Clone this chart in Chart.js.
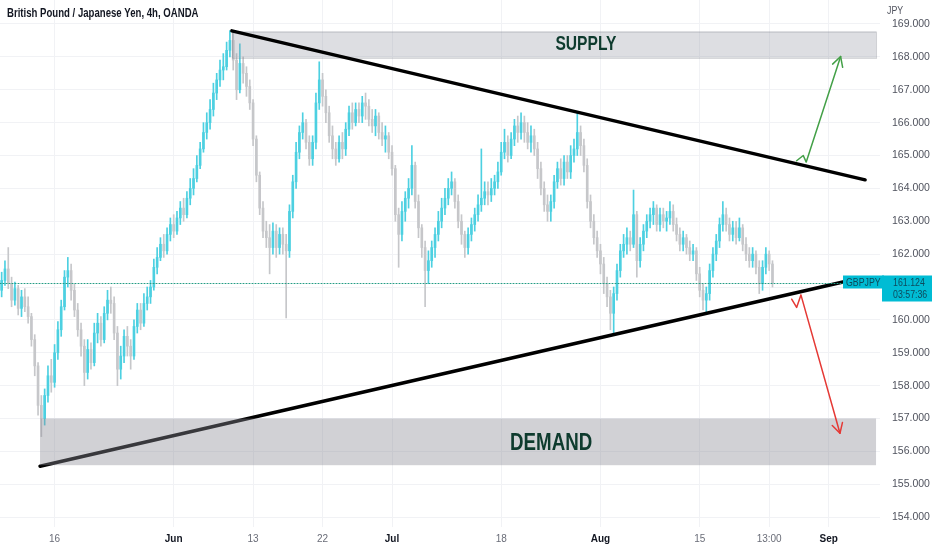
<!DOCTYPE html>
<html>
<head>
<meta charset="utf-8">
<title>GBPJPY 4h</title>
<script src="https://cdn.jsdelivr.net/npm/chart.js@4.4.1/dist/chart.umd.min.js"></script>
<style>
  html, body { margin: 0; padding: 0; background: #fff; }
  #wrap { width: 932px; height: 550px; }
</style>
</head>
<body>
<div id="wrap"><canvas id="chart"></canvas></div>
<script>
// 4h candles (one value per 8h slot), open = previous close
const firstOpen = 160.90;
const closes = [
  161.20, 161.55, 161.10, 160.60, 160.95, 160.35, 160.70, 160.40, 160.10, 159.40,
  158.60, 157.40, 157.00, 157.70, 158.30, 158.10, 159.00, 159.70, 160.40, 161.30,
  161.50, 160.90, 160.30, 159.70, 159.20, 158.40, 159.10, 158.70, 159.60, 159.90,
  159.40, 160.20, 160.60, 160.50, 159.60, 158.50, 158.90, 159.50, 159.20, 158.90,
  159.80, 160.30, 159.90, 160.50, 160.70, 161.00, 161.60, 161.90, 162.30, 162.10,
  162.60, 162.90, 162.70, 163.10, 163.40, 163.20, 163.70, 164.00, 164.30, 164.70,
  165.20, 165.70, 166.00, 166.40, 166.90, 167.30, 167.60, 167.70, 168.20, 168.50,
  167.90, 167.00, 167.80, 167.50, 167.10, 166.60, 165.50, 164.40, 163.40, 162.70,
  162.50, 162.20, 162.70, 162.20, 162.60, 162.30, 162.10, 163.30, 164.20, 165.10,
  165.70, 166.00, 165.40, 164.90, 165.40, 166.60, 167.30, 166.80, 166.30, 165.60,
  165.20, 164.90, 165.40, 165.20, 165.80, 166.30, 166.00, 166.40, 166.20, 166.60,
  166.50, 166.10, 165.90, 166.20, 165.70, 165.50, 165.60, 165.10, 164.60, 163.20,
  162.60, 163.30, 163.70, 164.00, 164.70, 163.60, 162.80, 162.20, 161.50, 161.80,
  162.20, 162.60, 163.00, 163.40, 163.70, 164.00, 164.20, 163.60, 163.00, 162.60,
  162.20, 162.60, 162.90, 163.20, 163.50, 163.70, 163.90, 163.80, 164.00, 164.20,
  164.50, 165.10, 165.40, 165.00, 165.50, 165.90, 165.70, 166.00, 165.70, 165.40,
  165.60, 165.20, 164.60, 164.00, 163.50, 163.30, 163.60, 164.20, 164.60, 164.30,
  164.80, 164.50, 165.00, 165.20, 165.70, 165.30, 164.70, 163.60, 163.00, 162.50,
  162.10, 161.70, 161.10, 160.70, 160.20, 160.80, 161.50, 162.10, 162.30, 162.50,
  162.30, 163.20, 161.80, 162.30, 162.70, 163.00, 163.20, 163.40, 162.90, 163.20,
  163.00, 163.10, 163.30, 162.90, 162.60, 162.30, 162.50, 162.20, 162.00, 162.10,
  161.40, 160.90, 160.60, 160.80, 161.50, 162.00, 162.40, 162.90, 163.20, 162.90,
  162.60, 162.80, 162.50, 162.80, 162.30, 162.00, 161.80, 162.00, 161.60, 161.10,
  161.60, 162.00, 161.70, 161.124
];
const highs = [
  161.45, 161.80, 162.20, 161.30, 161.15, 161.05, 160.90, 160.95, 160.70, 160.20,
  159.55, 158.70, 157.70, 157.90, 158.60, 158.80, 159.25, 159.95, 160.60, 161.50,
  161.90, 161.70, 161.10, 160.50, 159.90, 159.40, 159.40, 159.30, 159.90, 160.20,
  160.10, 160.40, 160.90, 161.00, 160.70, 159.80, 159.20, 159.70, 159.80, 159.40,
  160.00, 160.50, 160.50, 160.80, 161.00, 161.20, 161.85, 162.20, 162.50, 162.60,
  162.80, 163.10, 163.20, 163.30, 163.60, 163.70, 163.90, 164.30, 164.60, 165.00,
  165.40, 166.00, 166.30, 166.70, 167.20, 167.50, 167.90, 168.10, 168.45, 168.80,
  168.78, 168.10, 168.40, 168.00, 167.70, 167.30, 166.70, 165.60, 164.50, 163.60,
  163.00, 162.90, 162.95, 162.90, 162.80, 162.80, 162.60, 163.50, 164.40, 165.40,
  165.90, 166.30, 166.10, 165.60, 165.60, 166.90, 167.85, 167.50, 167.00, 166.50,
  165.90, 165.40, 165.60, 165.70, 166.00, 166.50, 166.60, 166.60, 166.60, 166.80,
  166.90, 166.70, 166.40, 166.40, 166.30, 166.00, 165.90, 165.70, 165.30, 164.70,
  163.40, 163.60, 163.90, 164.30, 165.30, 164.80, 163.80, 162.90, 162.40, 162.10,
  162.40, 162.80, 163.30, 163.70, 164.00, 164.30, 164.50, 164.30, 163.80, 163.20,
  162.70, 162.80, 163.10, 163.40, 163.80, 165.20, 164.20, 164.20, 164.30, 164.40,
  164.80, 165.40, 165.80, 165.60, 165.70, 166.10, 166.20, 166.30, 166.20, 166.00,
  165.90, 165.80, 165.40, 164.80, 164.20, 163.80, 163.80, 164.40, 164.80, 164.90,
  165.00, 165.00, 165.30, 165.50, 166.30, 165.90, 165.50, 164.90, 163.80, 163.20,
  162.70, 162.30, 161.90, 161.30, 160.90, 161.00, 161.70, 162.30, 162.60, 162.80,
  162.70, 163.95, 163.30, 162.50, 162.90, 163.20, 163.40, 163.60, 163.50, 163.40,
  163.40, 163.30, 163.60, 163.50, 163.10, 162.80, 162.70, 162.60, 162.40, 162.30,
  162.20, 161.60, 161.10, 161.00, 161.70, 162.20, 162.60, 163.10, 163.60, 163.40,
  163.10, 163.00, 163.00, 163.10, 162.90, 162.50, 162.20, 162.20, 162.10, 161.80,
  161.80, 162.20, 162.10, 161.80
];
const lows = [
  160.70, 161.05, 160.95, 160.40, 160.45, 160.15, 160.10, 160.25, 159.90, 159.20,
  158.30, 157.10, 156.45, 156.80, 157.50, 157.80, 157.95, 158.80, 159.50, 160.30,
  161.00, 160.60, 160.10, 159.50, 158.90, 158.00, 158.20, 158.50, 158.60, 159.30,
  159.20, 159.30, 160.00, 160.20, 159.40, 158.00, 158.20, 158.70, 158.90, 158.50,
  158.80, 159.60, 159.70, 159.80, 160.30, 160.50, 160.90, 161.40, 161.80, 161.90,
  162.00, 162.40, 162.50, 162.60, 162.90, 163.00, 163.10, 163.50, 163.80, 164.20,
  164.60, 165.10, 165.50, 165.80, 166.20, 166.70, 167.10, 167.30, 167.60, 168.00,
  167.60, 166.70, 166.90, 167.20, 166.80, 166.40, 165.30, 164.20, 163.20, 162.50,
  162.20, 161.40, 162.00, 161.90, 162.00, 162.00, 160.06, 161.90, 163.10, 164.00,
  164.90, 165.50, 165.20, 164.70, 164.70, 165.20, 166.40, 166.50, 166.00, 165.40,
  164.90, 164.70, 164.80, 164.90, 165.00, 165.60, 165.80, 165.90, 166.00, 166.00,
  166.10, 165.90, 165.70, 165.60, 165.50, 165.30, 165.10, 164.90, 164.40, 163.00,
  161.60, 162.40, 163.00, 163.40, 163.80, 163.40, 162.50, 161.90, 160.40, 161.10,
  161.60, 161.90, 162.40, 162.80, 163.20, 163.50, 163.80, 163.40, 162.80, 162.30,
  161.90, 162.00, 162.40, 162.70, 163.00, 163.30, 163.50, 163.50, 163.60, 163.80,
  164.00, 164.40, 164.90, 164.80, 164.90, 165.30, 165.40, 165.50, 165.40, 165.20,
  165.10, 165.00, 164.30, 163.80, 163.30, 163.00, 163.00, 163.40, 164.00, 164.10,
  164.10, 164.30, 164.30, 164.80, 165.00, 165.00, 164.50, 163.40, 162.80, 162.30,
  161.90, 161.40, 160.80, 160.40, 159.70, 159.60, 160.60, 161.30, 161.90, 162.00,
  162.10, 162.20, 161.30, 161.60, 162.10, 162.50, 162.80, 162.90, 162.70, 162.70,
  162.80, 162.70, 162.90, 162.70, 162.40, 162.10, 162.10, 162.00, 161.80, 161.80,
  161.20, 160.70, 160.30, 160.20, 160.60, 161.30, 161.80, 162.20, 162.70, 162.70,
  162.40, 162.40, 162.30, 162.40, 162.10, 161.80, 161.60, 161.60, 161.40, 160.80,
  160.90, 161.40, 161.50, 161.00
];
const opens = closes.map((c, i) => i === 0 ? firstOpen : closes[i - 1]);

// axis
const slotCount = 266;             // 8h slots from May 6 16:00, incl. empty space on the right
const priceTicks = [154, 155, 156, 157, 158, 159, 160, 161, 162, 163, 164, 165, 166, 167, 168, 169];
const tickDates = ['2022-05-16 00:00', '2022-06-01 00:00', '2022-06-13 00:00', '2022-06-22 00:00',
  '2022-07-01 00:00', '2022-07-18 00:00', '2022-08-01 00:00', '2022-08-15 00:00',
  '2022-08-24 00:00', '2022-09-01 00:00'];
const tickTexts = ['16', 'Jun', '13', '22', 'Jul', '18', 'Aug', '15', '13:00', 'Sep'];
const monthTicks = ['Jun', 'Jul', 'Aug', 'Sep'];

// drawings (slot index, price)
const supplyZone = [69.6, 264.3, 167.97, 168.77];
const demandZone = [11.6, 264.3, 155.58, 157.0];
const upperTrend = [[69.6, 168.79], [261.0, 164.26]];
const lowerTrend = [[11.6, 155.55], [254.3, 161.15]];
const bullArrow = [[240.3, 164.84], [242.3, 165.0], [243.2, 164.8], [253.6, 168.01]];
const bearArrow = [[238.8, 160.63], [240.3, 160.38], [241.6, 160.76], [253.4, 156.55]];
const supplyLabel = [176.6, 168.37, 'SUPPLY'];
const demandLabel = [166.1, 156.24, 'DEMAND'];
const lastPrice = 161.124;
const countdown = '03:57:36';
const symbol = 'GBPJPY';
const title = 'British Pound / Japanese Yen, 4h, OANDA';

const UP = '#4dd0e1';
const DOWN = '#c6c7ca';
const SANS = '"Liberation Sans", Arial, sans-serif';

// 8h slot labels, weekdays only
const slotLabels = [];
const day = new Date(Date.UTC(2022, 4, 6));
while (slotLabels.length < slotCount + 2) {
  const wd = day.getUTCDay();
  if (wd !== 0 && wd !== 6) {
    ['00:00', '08:00', '16:00'].forEach(h => slotLabels.push(day.toISOString().slice(0, 10) + ' ' + h));
  }
  day.setUTCDate(day.getUTCDate() + 1);
}
slotLabels.splice(0, 2);
slotLabels.length = slotCount;
const tickSlots = tickDates.map(d => slotLabels.indexOf(d));

const candleColor = ctx => closes[ctx.dataIndex] >= opens[ctx.dataIndex] ? UP : DOWN;

// the screenshot uses a narrow face, so squeeze text horizontally
function narrowText(ctx, text, x, y, sx) {
  ctx.save();
  ctx.translate(x, y);
  ctx.scale(sx, 1);
  ctx.fillText(text, 0, 0);
  ctx.restore();
}

function drawArrow(ctx, pts, color) {
  ctx.save();
  ctx.strokeStyle = color;
  ctx.lineWidth = 1.5;
  ctx.lineJoin = 'round';
  ctx.beginPath();
  pts.forEach((p, i) => i ? ctx.lineTo(p[0], p[1]) : ctx.moveTo(p[0], p[1]));
  ctx.stroke();
  const [x1, y1] = pts[pts.length - 2];
  const [x2, y2] = pts[pts.length - 1];
  const a = Math.atan2(y2 - y1, x2 - x1);
  ctx.beginPath();
  ctx.moveTo(x2 - 11 * Math.cos(a - 0.5), y2 - 11 * Math.sin(a - 0.5));
  ctx.lineTo(x2, y2);
  ctx.lineTo(x2 - 11 * Math.cos(a + 0.5), y2 - 11 * Math.sin(a + 0.5));
  ctx.stroke();
  ctx.restore();
}

const drawings = {
  id: 'drawings',
  afterDatasetsDraw(chart) {
    const ctx = chart.ctx;
    const area = chart.chartArea;
    const xs = chart.scales.x, ys = chart.scales.y;
    const px = s => xs.getPixelForValue(s);
    const py = p => ys.getPixelForValue(p);
    const pt = p => [px(p[0]), py(p[1])];

    ctx.save();
    ctx.beginPath();
    ctx.rect(area.left, area.top, area.right - area.left, area.bottom - area.top);
    ctx.clip();

    // supply zone under the trendline
    let [s0, s1, lo, hi] = supplyZone;
    ctx.fillStyle = 'rgba(150,152,166,0.32)';
    ctx.fillRect(px(s0), py(hi), px(s1) - px(s0), py(lo) - py(hi));
    ctx.strokeStyle = 'rgba(120,122,135,0.35)';
    ctx.lineWidth = 1;
    ctx.strokeRect(px(s0) + 0.5, py(hi) + 0.5, px(s1) - px(s0), py(lo) - py(hi));

    // trendlines
    ctx.strokeStyle = '#000';
    ctx.lineWidth = 3.5;
    ctx.lineCap = 'round';
    [upperTrend, lowerTrend].forEach(line => {
      const a = pt(line[0]), b = pt(line[1]);
      ctx.beginPath();
      ctx.moveTo(a[0], a[1]);
      ctx.lineTo(b[0], b[1]);
      ctx.stroke();
    });

    // demand zone over the trendline
    [s0, s1, lo, hi] = demandZone;
    ctx.fillStyle = 'rgba(140,141,150,0.4)';
    ctx.fillRect(px(s0), py(hi), px(s1) - px(s0), py(lo) - py(hi));

    // zone labels
    ctx.fillStyle = '#0e3b2e';
    ctx.textAlign = 'center';
    ctx.textBaseline = 'middle';
    ctx.font = 'bold 20px ' + SANS;
    narrowText(ctx, supplyLabel[2], px(supplyLabel[0]), py(supplyLabel[1]), 0.78);
    ctx.font = 'bold 24px ' + SANS;
    narrowText(ctx, demandLabel[2], px(demandLabel[0]), py(demandLabel[1]), 0.78);

    drawArrow(ctx, bullArrow.map(pt), '#43a047');
    drawArrow(ctx, bearArrow.map(pt), '#e53935');

    // last price line
    const yp = Math.round(py(lastPrice)) + 0.5;
    ctx.strokeStyle = '#239c84';
    ctx.lineWidth = 1;
    ctx.setLineDash([1, 2]);
    ctx.beginPath();
    ctx.moveTo(area.left, yp);
    ctx.lineTo(area.right - 36, yp);
    ctx.stroke();
    ctx.setLineDash([]);
    ctx.restore();

    // symbol and price labels
    ctx.save();
    ctx.fillStyle = '#00bcd4';
    ctx.fillRect(area.right - 37, yp - 8, 41, 13);
    ctx.fillRect(area.right + 2, yp - 8, chart.width - area.right - 2, 26);
    ctx.fillStyle = '#0d4a5c';
    ctx.textBaseline = 'middle';
    ctx.textAlign = 'left';
    ctx.font = '11px ' + SANS;
    narrowText(ctx, symbol, area.right - 34, yp - 1, 0.8);
    narrowText(ctx, lastPrice.toFixed(3), area.right + 13, yp - 1, 0.8);
    narrowText(ctx, countdown, area.right + 13, yp + 11, 0.8);

    // axis header
    ctx.fillStyle = '#fff';
    ctx.fillRect(area.right + 1, 0, chart.width - area.right, 19);
    ctx.fillStyle = '#50535e';
    narrowText(ctx, 'JPY', area.right + 7, 11, 0.8);

    // title
    ctx.fillStyle = '#131722';
    ctx.font = 'bold 12px ' + SANS;
    narrowText(ctx, title, 7, 14, 0.8);
    ctx.restore();
  }
};

new Chart(document.getElementById('chart'), {
  type: 'bar',
  data: {
    labels: slotLabels,
    datasets: [
      {
        label: 'wick',
        data: lows.map((l, i) => [l, highs[i]]),
        backgroundColor: candleColor,
        barThickness: 1,
        grouped: false
      },
      {
        label: 'body',
        data: opens.map((o, i) => [o, closes[i]]),
        backgroundColor: candleColor,
        barThickness: 2,
        minBarLength: 1,
        grouped: false
      }
    ]
  },
  options: {
    responsive: true,
    maintainAspectRatio: false,
    animation: false,
    layout: { padding: 0 },
    plugins: {
      legend: { display: false },
      tooltip: { enabled: false }
    },
    scales: {
      x: {
        type: 'category',
        offset: true,
        grid: { color: '#f1f2f5', offset: false, drawTicks: false },
        border: { display: false },
        afterBuildTicks: axis => { axis.ticks = tickSlots.map(v => ({ value: v })); },
        afterFit: axis => { axis.height = 23; axis.paddingLeft = 0; axis.paddingRight = 0; },
        ticks: {
          autoSkip: false,
          maxRotation: 0,
          padding: 6,
          callback: (v, i) => tickTexts[i],
          color: c => monthTicks.includes(tickTexts[c.index]) ? '#131722' : '#6a6d78',
          font: c => ({
            family: SANS,
            size: 10,
            weight: monthTicks.includes(tickTexts[c.index]) ? 'bold' : 'normal'
          })
        }
      },
      y: {
        position: 'right',
        min: 153.70,
        max: 169.73,
        grid: { color: '#f1f2f5', drawTicks: false },
        border: { display: false },
        afterBuildTicks: axis => { axis.ticks = priceTicks.map(v => ({ value: v })); },
        afterFit: axis => { axis.width = 52; axis.paddingTop = 0; axis.paddingBottom = 0; },
        ticks: {
          padding: 12,
          color: '#50535e',
          font: { family: SANS, size: 10.5 },
          callback: v => v.toFixed(3)
        }
      }
    }
  },
  plugins: [drawings]
});
</script>
</body>
</html>
